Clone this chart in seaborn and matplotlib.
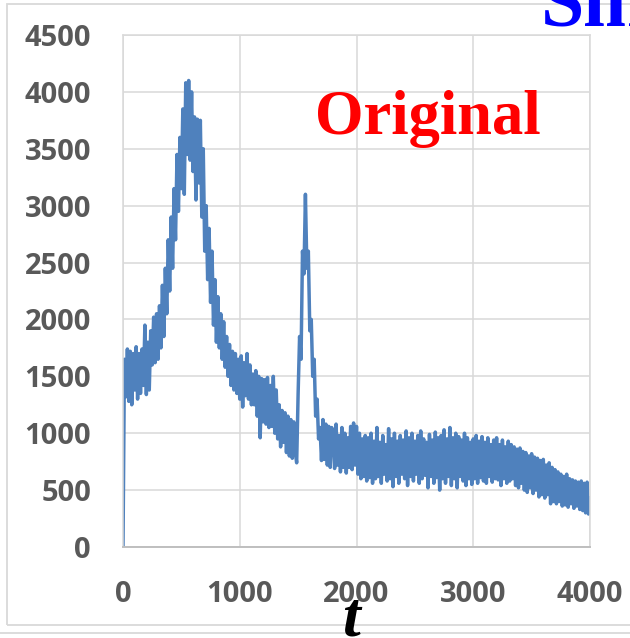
import numpy as np
import pandas as pd
import matplotlib
matplotlib.use("Agg")
import matplotlib.pyplot as plt
import seaborn as sns
from matplotlib.patches import Rectangle
from matplotlib.lines import Line2D

# ---- data ----
t_step = 12.5
signal = [
    0, 1650, 1320, 1740, 1280, 1720, 1250, 1700,
    1380, 1760, 1300, 1700, 1350, 1740, 1420, 1950,
    1340, 1800, 1380, 1900, 1600, 2020, 1620, 2050,
    1650, 2120, 1750, 2300, 1850, 2450, 2050, 2700,
    2250, 2900, 2450, 3150, 2700, 3450, 2950, 3600,
    3150, 3850, 3100, 4080, 3450, 4100, 3400, 4000,
    3300, 3780, 3050, 3760, 3200, 3750, 2900, 3500,
    2600, 3000, 2350, 2800, 2150, 2600, 1950, 2350,
    1800, 2200, 1750, 2050, 1650, 1980, 1580, 1850,
    1500, 1780, 1420, 1720, 1380, 1700, 1350, 1650,
    1300, 1680, 1230, 1620, 1330, 1700, 1300, 1600,
    1250, 1520, 1250, 1550, 1150, 1500, 960, 1480,
    1100, 1470, 1080, 1490, 1050, 1420, 1060, 1500,
    1000, 1380, 950, 1250, 880, 1200, 920, 1180,
    830, 1150, 800, 1120, 780, 1100, 840, 740,
    1350, 1850, 1650, 2600, 2400, 3100, 2450, 2600,
    1900, 2000, 1500, 1650, 1150, 1300, 950, 1050,
    760, 1120, 770, 1080, 720, 1060, 700, 1050,
    1000, 690, 1080, 720, 980, 660, 1050, 700,
    1000, 650, 960, 700, 1060, 680, 1090, 720,
    1060, 640, 1000, 600, 950, 620, 980, 580,
    960, 610, 1000, 560, 930, 600, 1050, 620,
    920, 560, 980, 640, 900, 580, 1040, 600,
    950, 530, 1000, 620, 930, 560, 980, 640,
    940, 600, 1020, 540, 960, 620, 1000, 580,
    930, 640, 980, 560, 1020, 600, 950, 630,
    920, 520, 990, 620, 940, 560, 1010, 610,
    960, 500, 980, 600, 1030, 560, 950, 620,
    1050, 540, 960, 600, 1000, 520, 970, 620,
    940, 580, 1000, 540, 960, 600, 920, 550,
    950, 600, 980, 560, 930, 610, 970, 580,
    920, 560, 960, 620, 900, 570, 940, 600,
    960, 590, 900, 540, 940, 600, 880, 560,
    930, 580, 900, 600, 880, 540, 860, 520,
    870, 560, 840, 500, 830, 480, 800, 520,
    820, 470, 790, 500, 780, 440, 760, 460,
    770, 430, 720, 460, 740, 380, 700, 400,
    680, 380, 660, 400, 640, 360, 620, 370,
    640, 350, 600, 380, 590, 340, 580, 360,
    570, 330, 580, 320, 560, 300, 570, 290,
    430,
]
x_ticks = [0, 1000, 2000, 3000, 4000]
y_ticks = [0, 500, 1000, 1500, 2000, 2500, 3000, 3500, 4000, 4500]

t = np.arange(len(signal)) * t_step
df = pd.DataFrame({"t": t, "value": signal})

# ---- style ----
sns.set_theme(style="white")
plt.rcParams["font.family"] = ["Open Sans", "DejaVu Sans"]

W, H = 630, 638
fig = plt.figure(figsize=(W / 100, H / 100), dpi=100)
fig.patch.set_facecolor("white")

ax = fig.add_axes([123 / W, 1 - 547 / H, 467 / W, 512 / H])
ax.set_facecolor("white")

grid_c = "#D9D9D9"
ax.set_axisbelow(True)
sns.lineplot(data=df, x="t", y="value", ax=ax, color="#4F81BD",
             linewidth=2.5, estimator=None, sort=False)

ax.set_xlim(0, 4000)
ax.set_ylim(0, 4500)
ax.set_xticks(x_ticks)
ax.set_yticks(y_ticks)
ax.set_xticklabels([str(v) for v in x_ticks])
ax.set_yticklabels([str(v) for v in y_ticks])
ax.set_xlabel("")
ax.set_ylabel("")
ax.grid(True, color=grid_c, linewidth=1.1)
for side in ["left", "right", "top"]:
    ax.spines[side].set_color(grid_c)
    ax.spines[side].set_linewidth(1.1)
ax.spines["bottom"].set_color("#BFBFBF")
ax.spines["bottom"].set_linewidth(1.4)
ax.tick_params(axis="both", length=0, labelsize=21, labelcolor="#595959")
ax.tick_params(axis="y", pad=23)
ax.tick_params(axis="x", pad=24)
for lab in ax.get_xticklabels() + ax.get_yticklabels():
    lab.set_fontweight("bold")

# ---- outer frame ----
fig.add_artist(Rectangle((6.7 / W, 1 - 625 / H), 1.2, (625 - 4) / H,
                         transform=fig.transFigure, fill=False,
                         edgecolor=grid_c, linewidth=1.3, clip_on=False))
fig.add_artist(Line2D([0, 1], [1 - 633 / H, 1 - 633 / H],
                      transform=fig.transFigure, color=grid_c, linewidth=1.3))

# ---- texts ----
fig.text(428 / W, 1 - 134 / H, "Original", color="red", fontsize=45,
         fontweight="bold", family=["Liberation Serif", "DejaVu Serif"],
         ha="center", va="baseline")
fig.text(351 / W, 1 - 635 / H, "t", color="black", fontsize=46,
         fontweight="bold", fontstyle="italic",
         family=["Liberation Serif", "DejaVu Serif"],
         ha="center", va="baseline")
fig.text(541 / W, 1 - 26 / H, "Sim", color="#0000FF", fontsize=56,
         fontweight="bold", family=["Liberation Serif", "DejaVu Serif"],
         ha="left", va="baseline")

fig.savefig("out.png", dpi=100, facecolor="white")
